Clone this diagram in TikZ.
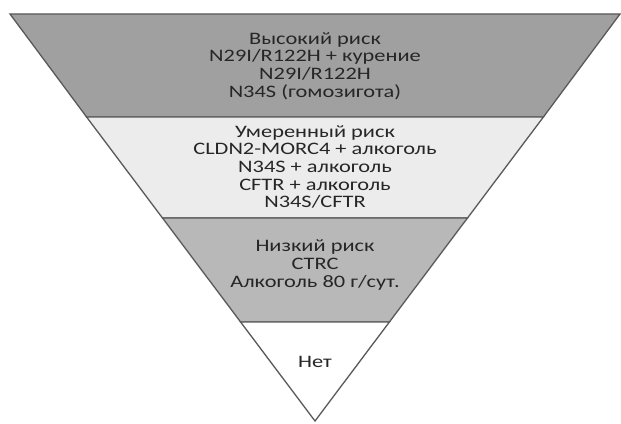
\documentclass[tikz,border=0pt]{standalone}
\usepackage{fontspec}
\setmainfont{Carlito}[FakeStretch=1.28]
\usepackage{xcolor}

\definecolor{highgray}{HTML}{A0A0A0}
\definecolor{midgray}{HTML}{ECECEC}
\definecolor{lowgray}{HTML}{B8B8B8}

\begin{document}
\begin{tikzpicture}[x=1pt, y=1pt,
    band/.style={draw=black!65, line width=1.3pt, line join=miter},
    bandtext/.style={align=center, text=black!85, font=\fontsize{17.5}{17.6}\selectfont}]
            \useasboundingbox (0,0) rectangle (621,423);
            % Corners
            \coordinate (apex) at (315,2);
            \coordinate (top_l) at (10,409);
            \coordinate (top_r) at (620,409);
            \coordinate (high_l) at (86.6,306);
            \coordinate (high_r) at (543.4,306);
            \coordinate (mid_l) at (162.5,205);
            \coordinate (mid_r) at (467.5,205);
            \coordinate (low_l) at (240.6,101);
            \coordinate (low_r) at (389.4,101);

            % Bands
            \draw[band, fill=highgray] (top_l) -- (top_r) -- (high_r) -- (high_l) -- cycle;
            \draw[band, fill=midgray] (high_l) -- (high_r) -- (mid_r) -- (mid_l) -- cycle;
            \draw[band, fill=lowgray] (mid_l) -- (mid_r) -- (low_r) -- (low_l) -- cycle;
            \draw[band, fill=white] (low_l) -- (low_r) -- (apex) -- cycle;

            % Nodes
            \node[bandtext] (high_risk) at (315,357) {Высокий риск\\N29I/R122H + курение\\N29I/R122H\\N34S (гомозигота)};
            \node[bandtext] (mid_risk) at (315,256) {Умеренный риск\\CLDN2-MORC4 + алкоголь\\N34S + алкоголь\\CFTR + алкоголь\\N34S/CFTR};
            \node[bandtext] (low_risk) at (315,158) {Низкий риск\\CTRC\\Алкоголь 80 г/сут.};
            \node[bandtext] (no_risk) at (315,61) {Нет};
        \end{tikzpicture}
\end{document}
